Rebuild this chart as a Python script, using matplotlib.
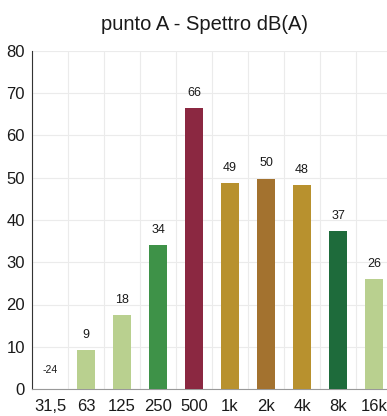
import matplotlib
matplotlib.use("Agg")
import matplotlib.pyplot as plt
import numpy as np

plt.rcParams['font.family'] = ['Liberation Sans', 'DejaVu Sans']

categories = ["31,5", "63", "125", "250", "500", "1k", "2k", "4k", "8k", "16k"]
values = [-24, 9.2, 17.5, 34.0, 66.4, 48.7, 49.8, 48.3, 37.3, 26.0]
labels = ["-24", "9", "18", "34", "66", "49", "50", "48", "37", "26"]
colors = ["#b9d08f", "#b9d08f", "#b9d08f", "#3e9248", "#8b2841", "#b8912e",
          "#a3722f", "#b8912e", "#1e6b3b", "#b9d08f"]

fig = plt.figure(figsize=(3.87, 4.16), dpi=100)
ax = fig.add_axes([32/387, 27/416, 360/387, 338/416])

x = np.arange(len(categories))
ax.bar(x, values, width=0.5, color=colors, zorder=3)
ax.set_xlim(-0.5, len(categories) - 0.5)
ax.set_ylim(0, 80)
ax.set_yticks(np.arange(0, 81, 10))
ax.set_xticks(x)
ax.set_xticklabels(categories)
ax.set_xticks(np.arange(-0.5, len(categories), 1), minor=True)
ax.tick_params(axis='x', which='minor', length=0)
ax.grid(True, which='minor', axis='x', color='#ebebeb', linewidth=0.8, zorder=0)
ax.grid(True, which='major', axis='y', color='#ebebeb', linewidth=0.8, zorder=0)
ax.tick_params(axis='both', which='major', length=0, labelsize=12, colors='#1a1a1a')
ax.tick_params(axis='x', pad=7)
ax.tick_params(axis='y', pad=5)

for s in ['top', 'right']:
    ax.spines[s].set_visible(False)
ax.spines['left'].set_color('#333333')
ax.spines['bottom'].set_color('#999999')

for xi, v, lab in zip(x, values, labels):
    if v < 0:
        ax.annotate(lab, (xi, 0), xytext=(0, 14), textcoords='offset points',
                    ha='center', va='center', fontsize=7.5, color='#1a1a1a')
    else:
        ax.annotate(lab, (xi, v), xytext=(0, 11), textcoords='offset points',
                    ha='center', va='center', fontsize=9, color='#1a1a1a')

fig.text(204/387, 1 - 24/416, "punto A - Spettro dB(A)", ha='center', va='center',
         fontsize=14.5, color='#1a1a1a')

fig.savefig("out.png", dpi=100)
